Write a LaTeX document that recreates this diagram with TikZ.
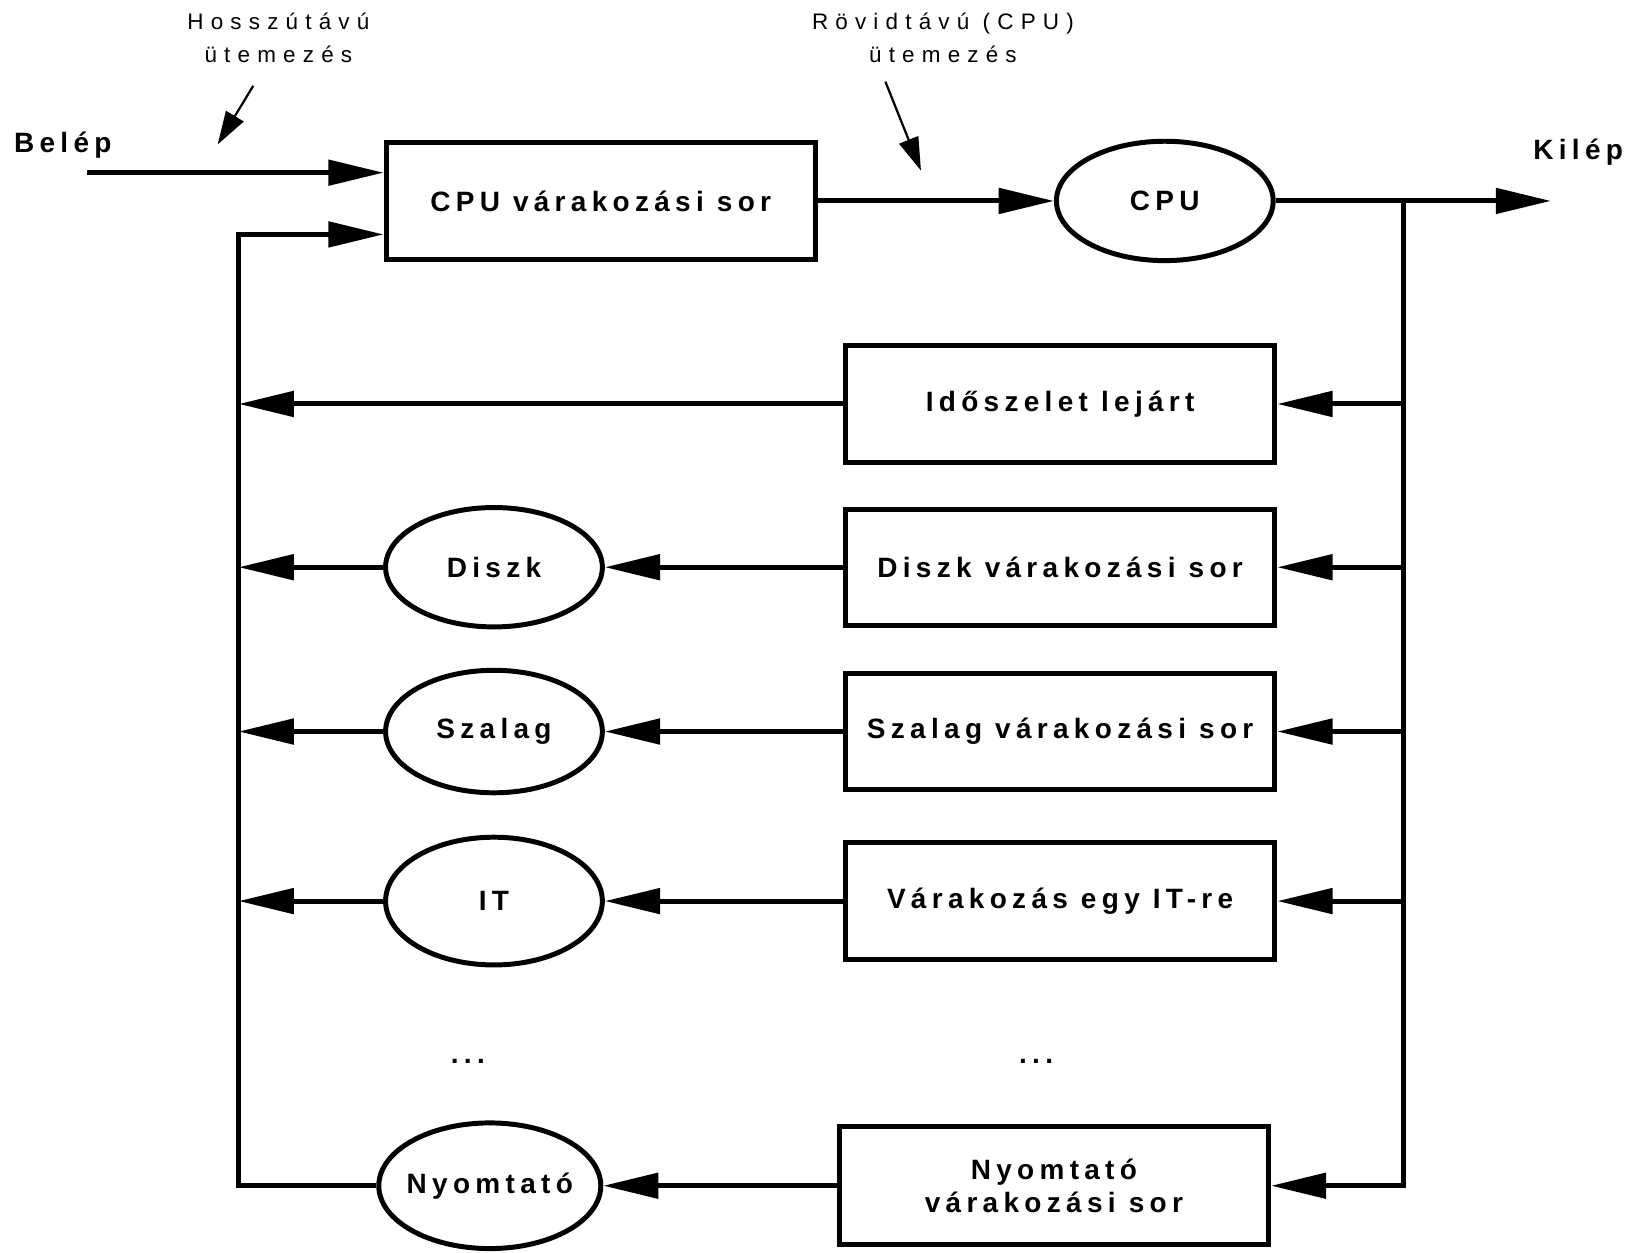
\documentclass[tikz,border=0pt]{standalone}
\usepackage{fontspec}
\setmainfont{Liberation Sans}
\newfontfamily\ritkabetu[LetterSpace=19]{Liberation Sans}
\newfontfamily\ritkavekony[LetterSpace=32]{Liberation Sans}
\usetikzlibrary{positioning,shapes.geometric,arrows.meta}
\begin{document}
\begin{tikzpicture}[x=0.01cm, y=-0.01cm, line width=1.35pt, >={Triangle[length=15pt,width=6.8pt]},
    every node/.style={font=\ritkabetu\bfseries\fontsize{7.6}{8.8}\selectfont, inner sep=0pt},
    doboz/.style={draw, rectangle, minimum width=4.1cm, minimum height=1.11cm, align=center},
    tojas/.style={draw, ellipse, minimum width=2.07cm, minimum height=1.14cm},
    megjegyzes/.style={font=\ritkavekony\fontsize{6.1}{9.1}\selectfont, align=center},
    mutato/.style={line width=0.6pt, -{Triangle[length=9pt,width=5.5pt]}}]
  \useasboundingbox (0,0) rectangle (1568,1197);

  % felső sor
  \node[doboz] (cpusor) at (574,192) {CPU várakozási sor};
  \node[tojas] (cpu) at (1113,192) {CPU};
  \node (belep) at (60,139) {Belép};
  \node (kilep) at (1508,145) {Kilép};
  \node[megjegyzes] (hosszu) at (266,36) {Hosszútávú\\ütemezés};
  \node[megjegyzes] (rovid) at (901,36) {Rövidtávú (CPU)\\ütemezés};
  \coordinate (be) at (83,165);
  \coordinate (ki) at (1482,192);
  \coordinate (elag) at (1341,192);
  \coordinate (vissza) at (228,224);
  \coordinate (h1) at (242,82);
  \coordinate (h2) at (208,138);
  \coordinate (r1) at (846,78);
  \coordinate (r2) at (880,163);

  % várakozási sorok
  \node[doboz] (ido) at (1013,386) {Időszelet lejárt};
  \node[doboz] (diszksor) at (1013,542) {Diszk várakozási sor};
  \node[doboz] (szalagsor) at (1013,699) {Szalag várakozási sor};
  \node[doboz] (itsor) at (1013,861) {Várakozás egy IT-re};
  \node[doboz, minimum height=1.13cm] (nyomsor) at (1007,1133) {Nyomtató\\várakozási sor};

  % eszközök
  \node[tojas] (diszk) at (472,542) {Diszk};
  \node[tojas, minimum height=1.17cm] (szalag) at (472,699) {Szalag};
  \node[tojas, minimum height=1.22cm] (it) at (472,861) {IT};
  \node[tojas, minimum width=2.12cm, minimum height=1.2cm, inner xsep=-8pt] (nyom) at (468,1133) {Nyomtató};
  \node (pont1) at (447,1014) {...};
  \node (pont2) at (990,1014) {...};

  % nyilak
  \draw[->] (be) -- (be -| cpusor.west);
  \draw[->] (cpusor) -- (cpu);
  \draw[->] (cpu) -- (ki);
  \draw[->] (elag) |- (nyomsor.east);
  \draw[->] (nyom.west) -| (vissza) -- (vissza -| cpusor.west);
  \draw[mutato] (h1) -- (h2);
  \draw[mutato] (r1) -- (r2);
  \foreach \sor in {ido,diszksor,szalagsor,itsor}
    \draw[->] (elag |- \sor.east) -- (\sor.east);
  \draw[->] (ido.west) -- (ido.west -| vissza);
  \foreach \sor/\eszk in {diszksor/diszk,szalagsor/szalag,itsor/it,nyomsor/nyom}
    \draw[->] (\sor.west) -- (\eszk.east);
  \foreach \eszk in {diszk,szalag,it}
    \draw[->] (\eszk.west) -- (\eszk.west -| vissza);
\end{tikzpicture}
\end{document}
